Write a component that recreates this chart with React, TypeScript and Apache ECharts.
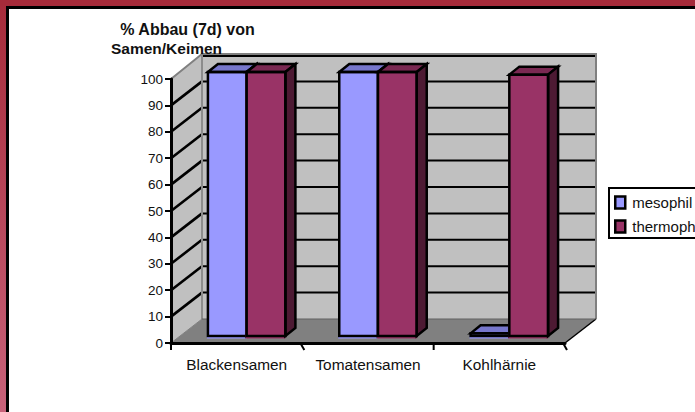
import React, { useEffect, useRef } from "react";
import * as echarts from "echarts";

const categories = ["Blackensamen", "Tomatensamen", "Kohlhärnie"];
const mesophil = [100, 100, 1];
const thermophil = [100, 100, 99];
const yTicks = [10, 20, 30, 40, 50, 60, 70, 80, 90];
const titleLines = ["% Abbau (7d) von", "Samen/Keimen"];

const WALL_DX = 31;
const WALL_DY = -24;
const BAR_SHIFT_X = 10;
const BAR_SHIFT_Y = -7;
const BAR_DX = 10;
const BAR_DY = -8;
const BAR_RATIO = 0.295;
const BLACK = "#000";

function renderWalls(params: any, api: any) {
  const c = params.coordSys;
  const y0 = api.coord([0, 0])[1];
  const y100 = api.coord([0, 100])[1];
  const xl = c.x;
  const xr = c.x + c.width;
  const poly = (pts: number[][], fill: string) => ({
    type: "polygon",
    shape: { points: pts },
    style: { fill, stroke: "none" },
  });
  return {
    type: "group",
    children: [
      poly([[xl, y0], [xl + WALL_DX, y0 + WALL_DY], [xl + WALL_DX, y100 + WALL_DY], [xl, y100]], "#c0c0c0"),
      poly([[xl + WALL_DX, y0 + WALL_DY], [xr + WALL_DX, y0 + WALL_DY], [xr + WALL_DX, y100 + WALL_DY], [xl + WALL_DX, y100 + WALL_DY]], "#c0c0c0"),
      poly([[xl, y0], [xr, y0], [xr + WALL_DX, y0 + WALL_DY], [xl + WALL_DX, y0 + WALL_DY]], "#808080"),
    ],
  };
}

function renderGrid(params: any, api: any) {
  const c = params.coordSys;
  const y = api.coord([0, api.value(1)])[1];
  const xl = c.x;
  const xr = c.x + c.width;
  return {
    type: "group",
    children: [
      { type: "line", shape: { x1: xl, y1: y, x2: xl + WALL_DX, y2: y + WALL_DY }, style: { stroke: BLACK, lineWidth: 2.6 } },
      { type: "line", shape: { x1: xl + WALL_DX, y1: y + WALL_DY, x2: xr + WALL_DX, y2: y + WALL_DY }, style: { stroke: BLACK, lineWidth: 2 } },
    ],
  };
}

function renderEdges(params: any, api: any) {
  const c = params.coordSys;
  const y0 = api.coord([0, 0])[1];
  const y100 = api.coord([0, 100])[1];
  const xl = c.x;
  const xr = c.x + c.width;
  const band = c.width / categories.length;
  const gray = { fill: "none", stroke: "#808080", lineWidth: 2 };
  const ticks = [0, 1, 2, 3].map((i) => ({
    type: "line",
    shape: { x1: xl + i * band - (i % 2) * 2, y1: y0, x2: xl + i * band + (i % 2) * 2, y2: y0 + 7 },
    style: { stroke: BLACK, lineWidth: 2 },
  }));
  return {
    type: "group",
    children: [
      { type: "line", shape: { x1: xl + WALL_DX, y1: y100 + WALL_DY + 1, x2: xr + WALL_DX, y2: y100 + WALL_DY + 1 }, style: { stroke: BLACK, lineWidth: 2 } },
      { type: "polyline", shape: { points: [[xl, y100], [xl + WALL_DX, y100 + WALL_DY - 1], [xr + WALL_DX, y100 + WALL_DY - 1], [xr + WALL_DX, y0 + WALL_DY]] }, style: gray },
      { type: "line", shape: { x1: xl + WALL_DX, y1: y100 + WALL_DY, x2: xl + WALL_DX, y2: y0 + WALL_DY }, style: { ...gray, stroke: "#8c8c8c" } },
      { type: "line", shape: { x1: xl, y1: y0, x2: xl + WALL_DX, y2: y0 + WALL_DY }, style: { stroke: "#808080", lineWidth: 1 } },
      { type: "line", shape: { x1: xr, y1: y0, x2: xr + WALL_DX, y2: y0 + WALL_DY }, style: { stroke: BLACK, lineWidth: 1.5 } },
      { type: "line", shape: { x1: xl + WALL_DX, y1: y0 + WALL_DY, x2: xr + WALL_DX, y2: y0 + WALL_DY }, style: { stroke: "#606060", lineWidth: 1 } },
      ...ticks,
    ],
  };
}

function barRenderer(side: number, front: string, top: string, dark: string) {
  return (params: any, api: any) => {
    const pTop = api.coord([api.value(0), api.value(1)]);
    const pBase = api.coord([api.value(0), 0]);
    const band = api.size([1, 0])[0];
    const w = band * BAR_RATIO;
    const x1 = pTop[0] + BAR_SHIFT_X + (side < 0 ? -w : 0);
    const x2 = x1 + w;
    const yT = pTop[1] + BAR_SHIFT_Y;
    const yB = pBase[1] + BAR_SHIFT_Y;
    const outline = { stroke: BLACK, lineWidth: 2.5, lineJoin: "miter" };
    return {
      type: "group",
      children: [
        { type: "rect", shape: { x: x1 - 1, y: yT, width: w + 1, height: yB - yT + 2.5 }, style: { fill: front } },
        { type: "polygon", shape: { points: [[x1, yT], [x1 + BAR_DX, yT + BAR_DY], [x2 + BAR_DX, yT + BAR_DY], [x2, yT]] }, style: { fill: top, ...outline } },
        { type: "polygon", shape: { points: [[x2, yT], [x2 + BAR_DX, yT + BAR_DY], [x2 + BAR_DX, yB + BAR_DY], [x2, yB]] }, style: { fill: dark, ...outline } },
        { type: "rect", shape: { x: x1, y: yT, width: w, height: yB - yT }, style: { fill: "none", ...outline } },
      ],
    };
  };
}

export default function App() {
  const ref = useRef<HTMLDivElement>(null);
  useEffect(() => {
    const chart = echarts.init(ref.current!, undefined, { renderer: "svg" });
    const vGrad = { type: "linear", x: 0, y: 0, x2: 0, y2: 1, colorStops: [{ offset: 0, color: "#a62b3a" }, { offset: 1, color: "#c8627a" }] };
    chart.setOption({
      animation: false,
      backgroundColor: "#fff",
      textStyle: { fontFamily: "Liberation Sans" },
      grid: { left: 171, right: 130, top: 79, bottom: 69 },
      xAxis: {
        type: "category",
        data: categories,
        z: 5,
        axisLine: { lineStyle: { color: BLACK, width: 3 } },
        axisTick: { show: false },
        axisLabel: { color: "#111", fontSize: 15.4, margin: 14, interval: 0, hideOverlap: false },
      },
      yAxis: {
        type: "value",
        min: 0,
        max: 100,
        interval: 10,
        z: 5,
        axisLine: { show: true, lineStyle: { color: BLACK, width: 3 } },
        axisTick: { show: true, length: 6, lineStyle: { color: BLACK, width: 2 } },
        axisLabel: { color: "#111", fontSize: 13.5, margin: 8 },
        splitLine: { show: false },
      },
      legend: {
        left: 609,
        top: 188,
        orient: "vertical",
        icon: "rect",
        data: ["mesophil", "thermophil"],
        itemWidth: 10,
        itemHeight: 12,
        itemGap: 9,
        padding: [7, 30, 4, 5],
        borderColor: BLACK,
        borderWidth: 2,
        textStyle: { color: "#111", fontSize: 15, padding: [6, 0, 0, 2] },
        itemStyle: { borderColor: BLACK, borderWidth: 2.5 },
        selectedMode: false,
      },
      graphic: [
        { type: "rect", shape: { x: 0, y: 0, width: 695, height: 9 }, style: { fill: BLACK }, z: 20 },
        { type: "rect", shape: { x: 0, y: 0, width: 9, height: 412 }, style: { fill: BLACK }, z: 20 },
        { type: "rect", shape: { x: 0, y: 0, width: 6, height: 412 }, style: { fill: vGrad }, z: 21 },
        { type: "rect", shape: { x: 0, y: 0, width: 695, height: 6 }, style: { fill: "#a62b3a" }, z: 21 },
        { type: "text", x: 187.5, y: 29, style: { text: titleLines[0], fill: "#111", font: "bold 16px 'Liberation Sans'", textAlign: "center", textVerticalAlign: "middle" }, z: 22 },
        { type: "text", x: 166.5, y: 48, style: { text: titleLines[1], fill: "#111", font: "bold 15.5px 'Liberation Sans'", textAlign: "center", textVerticalAlign: "middle" }, z: 22 },
      ],
      series: [
        { type: "custom", name: "walls", z: 1, silent: true, clip: false, data: [[0, 0]], renderItem: renderWalls },
        { type: "custom", name: "grid", z: 2, silent: true, clip: false, encode: { x: 0, y: 1 }, data: yTicks.map((t) => [0, t]), renderItem: renderGrid },
        { type: "custom", name: "edges", z: 3, silent: true, clip: false, data: [[0, 0]], renderItem: renderEdges },
        { type: "custom", name: "mesophil", z: 4, clip: false, itemStyle: { color: "#9999ff" }, encode: { x: 0, y: 1 }, data: mesophil.map((v, i) => [i, v]), renderItem: barRenderer(-1, "#9999ff", "#7777cc", "#4d4d80") },
        { type: "custom", name: "thermophil", z: 4, clip: false, itemStyle: { color: "#993366" }, encode: { x: 0, y: 1 }, data: thermophil.map((v, i) => [i, v]), renderItem: barRenderer(1, "#993366", "#7a2952", "#4d1a33") },
      ],
    });
    return () => chart.dispose();
  }, []);
  return <div ref={ref} style={{ position: "fixed", left: 0, top: 0, width: 695, height: 412 }} />;
}
